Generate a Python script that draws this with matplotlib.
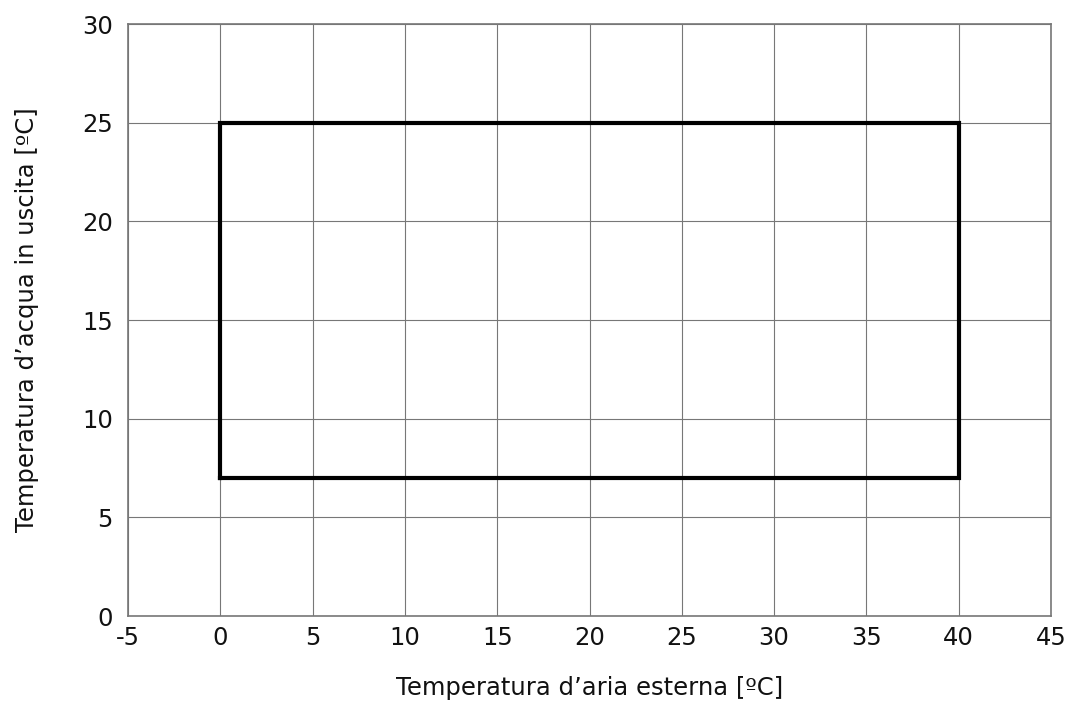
import matplotlib
matplotlib.use("Agg")
import matplotlib.pyplot as plt

# operating envelope corners (outdoor air temp, leaving water temp)
env_x = [0, 40, 40, 0, 0]
env_y = [7, 7, 25, 25, 7]

x_ticks = list(range(-5, 50, 5))
y_ticks = list(range(0, 35, 5))

plt.rcParams['font.family'] = ['DejaVu Sans']

fig = plt.figure(figsize=(10.84, 7.07), dpi=100)
ax = fig.add_axes([128 / 1084, 1 - 616 / 707, (1051 - 128) / 1084, (616 - 24) / 707])

ax.plot(env_x, env_y, color='black', linewidth=3, solid_joinstyle='miter', zorder=3)

ax.set_xlim(-5, 45)
ax.set_ylim(0, 30)
ax.set_xticks(x_ticks)
ax.set_yticks(y_ticks)
ax.set_xticklabels([str(v) for v in x_ticks])
ax.grid(True, color='#777777', linewidth=0.8)
ax.tick_params(length=0, labelsize=17.5, colors='#111111')
ax.tick_params(axis='x', pad=7)
ax.tick_params(axis='y', pad=11)
for s in ax.spines.values():
    s.set_color('#777777')
    s.set_linewidth(1.2)

ax.set_xlabel('Temperatura d’aria esterna [ºC]', fontsize=17.5, labelpad=19, color='#111111')
ax.set_ylabel('Temperatura d’acqua in uscita [ºC]', fontsize=17.5, labelpad=31, color='#111111')

fig.savefig('out.png', dpi=100)
